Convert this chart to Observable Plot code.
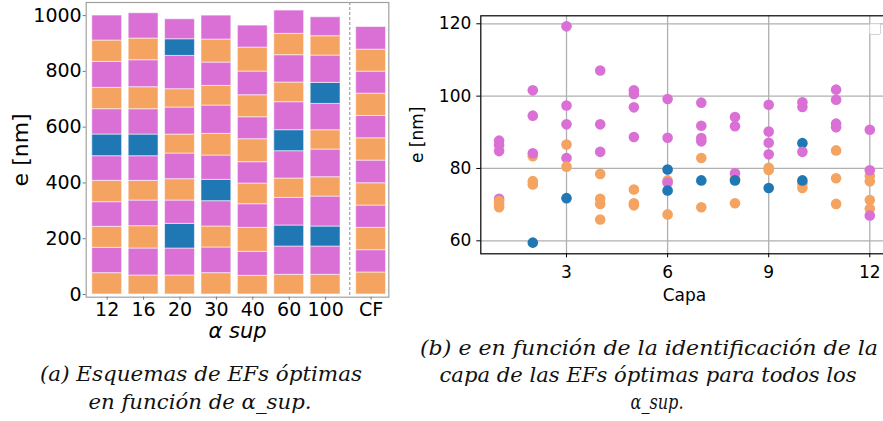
<!DOCTYPE html>
<html>
<head>
<meta charset="utf-8">
<script src="https://cdn.jsdelivr.net/npm/d3@7"></script>
<script src="https://cdn.jsdelivr.net/npm/@observablehq/plot@0.6"></script>
<style>
  html, body { margin: 0; padding: 0; background: #fff; }
  #fig { position: relative; width: 883px; height: 421px; overflow: hidden; font-family: "DejaVu Sans", sans-serif; }
  #left { position: absolute; left: 0; top: 0; width: 400px; }
  #right { position: absolute; left: 400px; top: 0; width: 500px; }
  #left svg, #right svg { max-width: none !important; }
  #captions { position: absolute; left: 0; top: 0; pointer-events: none; }
  #legendBox { position: absolute; left: 869px; top: 23px; width: 10px; height: 10px;
               border: 1px solid #d4d4d4; border-radius: 2px; background: rgba(255,255,255,0.8); }
</style>
</head>
<body>
<div id="fig">
  <div id="left"></div>
  <div id="right"></div>
  <div id="legendBox"></div>
  <svg id="captions" width="883" height="421"></svg>
</div>
<script>
// Materials of the layers and their colours
const materials = ["A", "B", "C"];
const materialColors = ["#f4a460", "#da70d6", "#1f77b4"];

// (a) Optimal stacks, one per α_sup plus the CF reference; layers listed bottom to top
const stackLabels = ["12", "16", "20", "30", "40", "60", "100", "CF"];
const stackMaterials = [
  "ABABABCBABAB",
  "ABABABCBABAB",
  "ABCBABABABCB",
  "ABABCBABABAB",
  "ABABABABABAB",
  "ABCBABCBABAB",
  "ABCBABABCBAB",
  "ABABABABABAB"
];
const stackThickness = [
  [76.5, 90.8, 75.3, 88.4, 76.5, 88.4, 77.7, 90.8, 76.5, 93.2, 76.5, 89.6],
  [68.1, 96.8, 80.0, 92.0, 70.5, 88.4, 77.7, 90.8, 78.9, 96.8, 77.7, 90.8],
  [68.1, 96.8, 88.4, 83.6, 76.5, 92.0, 68.1, 96.8, 65.7, 119.5, 59.7, 71.7],
  [76.5, 92.0, 75.3, 90.8, 76.5, 87.2, 77.7, 101.5, 70.5, 83.6, 82.4, 86.0],
  [66.9, 86.0, 86.0, 84.8, 74.1, 76.5, 82.4, 78.9, 78.9, 84.8, 86.0, 78.9],
  [70.5, 101.5, 75.3, 99.2, 69.3, 98.0, 75.3, 100.4, 70.5, 98.0, 76.5, 83.6],
  [70.5, 101.5, 71.7, 107.5, 69.3, 99.2, 69.3, 94.4, 75.3, 98.0, 69.3, 68.1],
  [78.9, 80.0, 80.0, 80.0, 80.0, 81.2, 80.0, 80.0, 80.0, 78.9, 78.9, 81.2]
];
const stackTicks = [0, 200, 400, 600, 800, 1000];

// (b) Thickness of every layer (Capa) of the optimal stacks for all α_sup: [capa, e, material]
const layerPoints = [
  [1, 87.7, "B"], [1, 86.4, "B"], [1, 84.8, "B"], [1, 71.6, "B"], [1, 71.0, "A"], [1, 70.2, "A"], [1, 69.3, "A"],
  [2, 101.6, "B"], [2, 94.6, "B"], [2, 83.4, "A"], [2, 84.2, "B"], [2, 76.5, "A"], [2, 75.6, "A"], [2, 59.5, "C"],
  [3, 119.3, "B"], [3, 97.4, "B"], [3, 92.2, "B"], [3, 86.6, "A"], [3, 82.9, "B"], [3, 80.5, "A"], [3, 71.8, "C"],
  [4, 107.1, "B"], [4, 92.2, "B"], [4, 84.6, "B"], [4, 78.5, "A"], [4, 71.6, "A"], [4, 70.2, "A"], [4, 65.9, "A"],
  [5, 101.6, "B"], [5, 100.6, "B"], [5, 96.9, "B"], [5, 88.7, "B"], [5, 74.2, "A"], [5, 70.4, "A"], [5, 69.8, "A"],
  [6, 99.2, "B"], [6, 88.5, "B"], [6, 79.7, "C"], [6, 76.7, "A"], [6, 76.1, "B"], [6, 73.9, "C"], [6, 67.3, "A"],
  [7, 98.2, "B"], [7, 91.8, "B"], [7, 88.4, "B"], [7, 87.5, "B"], [7, 82.9, "A"], [7, 76.7, "C"], [7, 69.3, "A"],
  [8, 94.2, "B"], [8, 91.7, "B"], [8, 77.2, "A"], [8, 77.0, "A"], [8, 78.7, "B"], [8, 76.7, "C"], [8, 70.4, "A"],
  [9, 97.6, "B"], [9, 90.2, "B"], [9, 87.1, "B"], [9, 83.9, "B"], [9, 80.2, "A"], [9, 79.6, "A"], [9, 74.6, "C"],
  [10, 98.3, "B"], [10, 97.0, "B"], [10, 87.0, "C"], [10, 84.6, "B"], [10, 75.8, "A"], [10, 74.6, "A"], [10, 76.7, "C"],
  [11, 101.8, "B"], [11, 99.0, "B"], [11, 92.4, "B"], [11, 91.4, "B"], [11, 85.0, "A"], [11, 77.3, "A"], [11, 70.2, "A"],
  [12, 90.7, "B"], [12, 77.9, "A"], [12, 76.5, "A"], [12, 79.5, "B"], [12, 71.3, "A"], [12, 68.9, "A"], [12, 67.0, "B"]
];
const capaTicks = [3, 6, 9, 12];
const eTicks = [60, 80, 100, 120];

// ---- (a) stacked layers -------------------------------------------------
const cfShift = 0.25;       // extra room before the CF reference stack
const separatorAt = 6.665;  // dashed divider between α_sup stacks and CF
const halfWidth = 0.41;

const stackPos = stackLabels.map((label, i) => i + (label === "CF" ? cfShift : 0));
const labelAt = new Map(stackPos.map((p, i) => [p, stackLabels[i]]));

const layers = [];
stackLabels.forEach((label, i) => {
  const ends = d3.cumsum(stackThickness[i]);
  stackThickness[i].forEach((t, j) => {
    layers.push({pos: stackPos[i], material: stackMaterials[i][j], y1: ends[j] - t, y2: ends[j]});
  });
});

const left = Plot.plot({
  width: 400,
  height: 345,
  marginLeft: 85.7,
  marginRight: 11.7,
  marginTop: 2,
  marginBottom: 48.3,
  style: {fontFamily: "DejaVu Sans", background: "transparent", color: "black", maxWidth: "none"},
  x: {type: "linear", domain: [-0.577, 7.736], axis: null},
  y: {domain: [-9.7, 1047], axis: null},
  color: {domain: materials, range: materialColors},
  marks: [
    Plot.rect(layers, {
      x1: d => d.pos - halfWidth,
      x2: d => d.pos + halfWidth,
      y1: "y1",
      y2: "y2",
      fill: "material",
      stroke: "white",
      strokeOpacity: 0.55,
      strokeWidth: 1
    }),
    Plot.ruleX([separatorAt], {stroke: "#8a8a8a", strokeDasharray: "3,2", strokeWidth: 1}),
    Plot.frame({stroke: "#a0a0a0", strokeWidth: 1.2}),
    Plot.axisY({ticks: stackTicks, tickFormat: d => String(d), tickSize: 3, tickPadding: 1.5, fontSize: 19, stroke: "#777", label: null}),
    Plot.axisX({ticks: stackPos, tickFormat: p => labelAt.get(p), tickSize: 3, tickPadding: 2, fontSize: 19, stroke: "#777", label: null}),
    Plot.text(["e [nm]"], {frameAnchor: "left", textAnchor: "middle", lineAnchor: "middle", rotate: -90, dx: -65.7, fontSize: 22}),
    Plot.text(["α sup"], {frameAnchor: "bottom", textAnchor: "middle", lineAnchor: "middle", dy: 34.5, fontSize: 21, fontStyle: "italic"})
  ]
});
document.getElementById("left").append(left);

// ---- (b) thickness per layer -------------------------------------------
const right = Plot.plot({
  width: 500,
  height: 310,
  marginLeft: 80.3,
  marginRight: 12.4,
  marginTop: 15.3,
  marginBottom: 56.7,
  style: {fontFamily: "DejaVu Sans", background: "transparent", color: "black", maxWidth: "none"},
  x: {domain: [0.457, 12.543], axis: null},
  y: {domain: [56.41, 122.21], axis: null},
  color: {domain: materials, range: materialColors},
  marks: [
    Plot.gridX({ticks: capaTicks, stroke: "#b0b0b0", strokeOpacity: 1, strokeWidth: 1.3}),
    Plot.gridY({ticks: eTicks, stroke: "#b0b0b0", strokeOpacity: 1, strokeWidth: 1.3}),
    Plot.dot(layerPoints, {x: d => d[0], y: d => d[1], fill: d => d[2], r: 5.3}),
    Plot.frame({stroke: "black", strokeWidth: 1.2}),
    Plot.axisX({ticks: capaTicks, tickSize: 4, tickPadding: 8.5, fontSize: 17, label: null}),
    Plot.axisY({ticks: eTicks, tickSize: 4, tickPadding: 5.5, fontSize: 17, label: null}),
    Plot.text(["Capa"], {frameAnchor: "bottom", textAnchor: "middle", lineAnchor: "middle", dy: 41.3, fontSize: 17}),
    Plot.text(["e [nm]"], {frameAnchor: "left", textAnchor: "middle", lineAnchor: "middle", rotate: -90, dx: -62.9, fontSize: 17})
  ]
});
document.getElementById("right").append(right);

// ---- captions ------------------------------------------------------------
const captionLines = [
  {text: "(a) Esquemas de EFs óptimas", cx: 201, y: 381, w: 322},
  {text: "en función de α_sup.", cx: 200, y: 409, w: 223},
  {text: "(b) e en función de la identificación de la", cx: 649, y: 355, w: 458},
  {text: "capa de las EFs óptimas para todos los", cx: 648, y: 382, w: 417},
  {text: "α_sup.", cx: 657, y: 409, w: 53}
];
const cap = d3.select("#captions");
cap.selectAll("text")
  .data(captionLines)
  .join("text")
  .attr("x", d => d.cx)
  .attr("y", d => d.y)
  .attr("text-anchor", "middle")
  .attr("textLength", d => d.w)
  .attr("lengthAdjust", "spacingAndGlyphs")
  .attr("font-family", "'DejaVu Serif', serif")
  .attr("font-style", "italic")
  .attr("font-size", 20)
  .attr("fill", "#111")
  .text(d => d.text);
</script>
</body>
</html>
